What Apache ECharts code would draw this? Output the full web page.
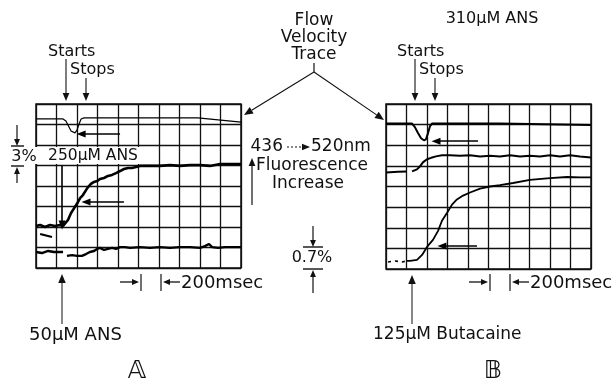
<!DOCTYPE html>
<html>
<head>
<meta charset="utf-8">
<script src="https://cdn.jsdelivr.net/npm/echarts@6/dist/echarts.min.js"></script>
<style>
  html, body { margin: 0; padding: 0; background: #fff; }
  #chart { width: 612px; height: 382px; }
</style>
</head>
<body>
<div id="chart"></div>
<script>
// x in 200 msec divisions (0..10), y in screen divisions (0..8)

// Panel A
const flowA = [[0,7.27],[1.32,7.27],[1.46,7.17],[1.61,6.88],[1.71,6.68],[1.80,6.59],[1.90,6.59],[2.0,6.73],[2.10,7.02],[2.20,7.27],[2.34,7.32],[7.90,7.32],[10,7.12]];
const ans250A = [[0,2.05],[0.2,2.1],[0.44,2.0],[0.68,2.1],[0.93,2.05],[1.17,2.1],[1.32,2.05],[1.41,2.05],[1.56,2.34],[1.71,2.68],[1.90,2.98],[2.05,3.22],[2.15,3.41],[2.29,3.56],[2.44,3.80],[2.54,3.95],[2.68,4.10],[2.83,4.20],[2.98,4.24],[3.12,4.34],[3.32,4.39],[3.51,4.49],[3.71,4.54],[3.90,4.63],[4.10,4.73],[4.29,4.83],[4.49,4.88],[4.68,4.88],[4.88,4.93],[5.07,4.98],[5.56,4.98],[6.05,4.98],[6.54,5.02],[7.02,4.98],[7.51,5.02],[8.0,5.02],[8.49,4.98],[8.98,5.07],[9.46,5.07],[10,5.07]];
const tailA = [[0.2,1.66],[0.78,1.51]];
const ans50A = [[0,0.78],[0.29,0.73],[0.59,0.83],[0.88,0.78],[1.17,0.78],[1.32,0.78],[1.4,'-'],[1.51,0.59],[1.76,0.63],[2.0,0.59],[2.24,0.59],[2.44,0.68],[2.63,0.78],[2.83,0.83],[2.98,0.93],[3.12,0.98],[3.32,0.88],[3.51,0.93],[3.71,0.98],[3.90,0.93],[4.10,1.02],[4.34,1.02],[4.59,0.98],[5.07,1.02],[5.56,0.98],[6.05,1.02],[6.54,0.98],[7.02,1.02],[7.51,1.02],[8.0,0.98],[8.24,1.07],[8.44,1.17],[8.59,1.02],[8.88,0.98],[9.22,1.02],[9.56,1.02],[10,1.02]];
const arrowsA = [[[4.1,6.54],[2.2,6.54]], [[4.29,3.22],[2.44,3.22]], [[1.27,5.0],[1.27,2.1]]];

// Panel B
const flowB = [[0,7.05],[1.27,7.05],[1.41,6.88],[1.56,6.59],[1.71,6.34],[1.85,6.24],[1.95,6.29],[2.05,6.59],[2.15,6.93],[2.24,7.05],[5.56,7.05],[10,6.98]];
const ans310B = [[0,4.68],[0.59,4.71],[1.02,4.73],[1.15,'-'],[1.27,4.73],[1.51,4.83],[1.66,4.98],[1.80,5.17],[2.0,5.32],[2.20,5.39],[2.44,5.46],[2.73,5.51],[3.12,5.51],[3.61,5.49],[4.10,5.51],[4.59,5.46],[5.07,5.49],[5.56,5.46],[6.05,5.51],[6.54,5.46],[7.02,5.49],[7.51,5.46],[8.0,5.51],[8.49,5.46],[8.98,5.51],[9.46,5.46],[10,5.41]];
const butaStartB = [[0.1,0.34],[0.44,0.39],[0.78,0.34],[1.02,0.39]];
const butacaineB = [[1.02,0.39],[1.17,0.39],[1.51,0.44],[1.76,0.68],[2.0,1.07],[2.29,1.41],[2.54,1.85],[2.73,2.34],[2.98,2.73],[3.22,3.12],[3.46,3.37],[3.76,3.56],[4.10,3.71],[4.59,3.90],[5.07,4.0],[5.56,4.07],[6.20,4.17],[7.02,4.32],[8.0,4.41],[8.83,4.46],[9.46,4.44],[10,4.44]];
const arrowsB = [[[4.49,6.2],[2.44,6.2]], [[4.44,1.12],[2.73,1.12]]];

const INK = '#111';
const FONT = 'DejaVu Sans';

function axisX(i) {
  return { type: 'value', gridIndex: i, min: 0, max: 10, interval: 1,
    axisLine: { show: false }, axisTick: { show: false }, axisLabel: { show: false },
    splitLine: { lineStyle: { color: INK, width: 1.3 } } };
}
function axisY(i) {
  return { type: 'value', gridIndex: i, min: 0, max: 8, interval: 1,
    axisLine: { show: false }, axisTick: { show: false }, axisLabel: { show: false },
    splitLine: { lineStyle: { color: INK, width: 1.3 } } };
}
function trace(i, data, width, dashed) {
  return { type: 'line', xAxisIndex: i, yAxisIndex: i, data: data, symbol: 'none',
    connectNulls: false, z: 5,
    lineStyle: { color: '#000', width: width, type: dashed ? [3, 4] : 'solid' } };
}
function arrowMarks(i, arrows) {
  return { type: 'line', xAxisIndex: i, yAxisIndex: i, data: [], z: 6,
    markLine: { silent: true, symbol: ['none', 'triangle'], symbolSize: [7, 9], label: { show: false },
      lineStyle: { color: '#000', width: 1.6, type: 'solid' },
      data: arrows.map(a => [{ coord: a[0] }, { coord: a[1] }]) } };
}

// annotation helpers (pixel space)
function txt(x, y, s, size, align) {
  return { type: 'text', x: x, y: y, z: 100,
    style: { text: s, fill: INK, font: (size || 17) + 'px "' + FONT + '"',
      align: align || 'center', verticalAlign: 'middle',
      textAlign: align || 'center', textVerticalAlign: 'middle' } };
}
function arrow(x1, y1, x2, y2, w, head, dash) {
  const ang = Math.atan2(y2 - y1, x2 - x1);
  const h = head || 8, hw = h * 0.42;
  const bx = x2 - h * Math.cos(ang), by = y2 - h * Math.sin(ang);
  const px = -Math.sin(ang) * hw, py = Math.cos(ang) * hw;
  return [
    { type: 'line', z: 100, shape: { x1: x1, y1: y1, x2: bx, y2: by },
      style: { stroke: INK, lineWidth: w || 1.2, lineDash: dash || null } },
    { type: 'polygon', z: 100, shape: { points: [[x2, y2], [bx + px, by + py], [bx - px, by - py]] },
      style: { fill: INK } }
  ];
}
function seg(x1, y1, x2, y2, w) {
  return { type: 'line', z: 100, shape: { x1: x1, y1: y1, x2: x2, y2: y2 },
    style: { stroke: INK, lineWidth: w || 1.2 } };
}

const graphics = [].concat(
  // header
  txt(314, 21, 'Flow'), txt(314, 38, 'Velocity'), txt(314, 55, 'Trace'),
  seg(314, 63, 314, 72),
  arrow(314, 72, 244, 115, 1.1, 9),
  arrow(314, 72, 384, 120, 1.1, 9),
  txt(492, 19, '310μM ANS', 16),
  // starts / stops A
  txt(48, 52, 'Starts', 16, 'left'),
  txt(70, 70, 'Stops', 16, 'left'),
  arrow(66, 59, 66, 101, 1.1, 8),
  arrow(86, 78, 86, 101, 1.1, 8),
  // starts / stops B
  txt(397, 52, 'Starts', 16, 'left'),
  txt(419, 70, 'Stops', 16, 'left'),
  arrow(415, 59, 415, 101, 1.1, 8),
  arrow(435, 78, 435, 101, 1.1, 8),
  // 3% scale
  arrow(17, 125, 17, 146, 1.2, 7),
  seg(11, 146, 24, 146, 1.4),
  txt(24, 157, '3%', 16),
  seg(11, 166, 24, 166, 1.4),
  arrow(17, 183, 17, 167, 1.2, 7),
  // 250 uM label with white patch over grid
  { type: 'rect', z: 99, shape: { x: 30, y: 147, width: 112, height: 17 }, style: { fill: '#fff' } },
  txt(93, 156, '250μM ANS', 15.5),
  // wavelength / fluorescence
  txt(283, 147, '436', 17, 'right'),
  arrow(287, 147, 310, 147, 1.2, 8, [2, 2]),
  txt(311, 147, '520nm', 17, 'left'),
  txt(312, 166, 'Fluorescence', 17),
  txt(308, 184, 'Increase', 17),
  arrow(252, 205, 252, 158, 1.2, 8),
  // 0.7% scale
  arrow(313, 226, 313, 247, 1.2, 7),
  seg(303, 247, 323, 247, 1.4),
  txt(312, 258, '0.7%', 16),
  seg(303, 269, 323, 269, 1.4),
  arrow(313, 293, 313, 270, 1.2, 7),
  // 200 msec A
  arrow(120, 282, 139, 282, 1.3, 7),
  seg(141, 274, 141, 291, 1.2),
  seg(161, 274, 161, 291, 1.2),
  arrow(180, 282, 163, 282, 1.3, 7),
  txt(181, 283, '200msec', 18, 'left'),
  // 200 msec B
  arrow(469, 282, 488, 282, 1.3, 7),
  seg(490, 274, 490, 291, 1.2),
  seg(510, 274, 510, 291, 1.2),
  arrow(529, 282, 512, 282, 1.3, 7),
  txt(530, 283, '200msec', 18, 'left'),
  // bottom labels
  arrow(62, 324, 62, 274, 1.0, 9),
  txt(29, 335, '50μM ANS', 18, 'left'),
  arrow(412, 324, 412, 275, 1.0, 9),
  txt(373, 335, '125μM Butacaine', 17, 'left'),
  txt(137, 371, '𝔸', 25),
  txt(493, 371, '𝔹', 25)
);

const chart = echarts.init(document.getElementById('chart'), null, { renderer: 'canvas' });
chart.setOption({
  animation: false,
  backgroundColor: '#fff',
  grid: [
    { left: 36, top: 104, width: 205, height: 164, show: true, borderColor: INK, borderWidth: 1.5 },
    { left: 386, top: 104, width: 205, height: 165, show: true, borderColor: INK, borderWidth: 1.5 }
  ],
  xAxis: [axisX(0), axisX(1)],
  yAxis: [axisY(0), axisY(1)],
  series: [
    trace(0, flowA, 1.2),
    trace(0, ans250A, 2.6),
    trace(0, tailA, 2.2),
    trace(0, ans50A, 2.4),
    arrowMarks(0, arrowsA),
    trace(1, flowB, 2.0),
    trace(1, ans310B, 2.0),
    trace(1, butaStartB, 1.6, true),
    trace(1, butacaineB, 1.8),
    arrowMarks(1, arrowsB)
  ],
  graphic: graphics
});
</script>
</body>
</html>
